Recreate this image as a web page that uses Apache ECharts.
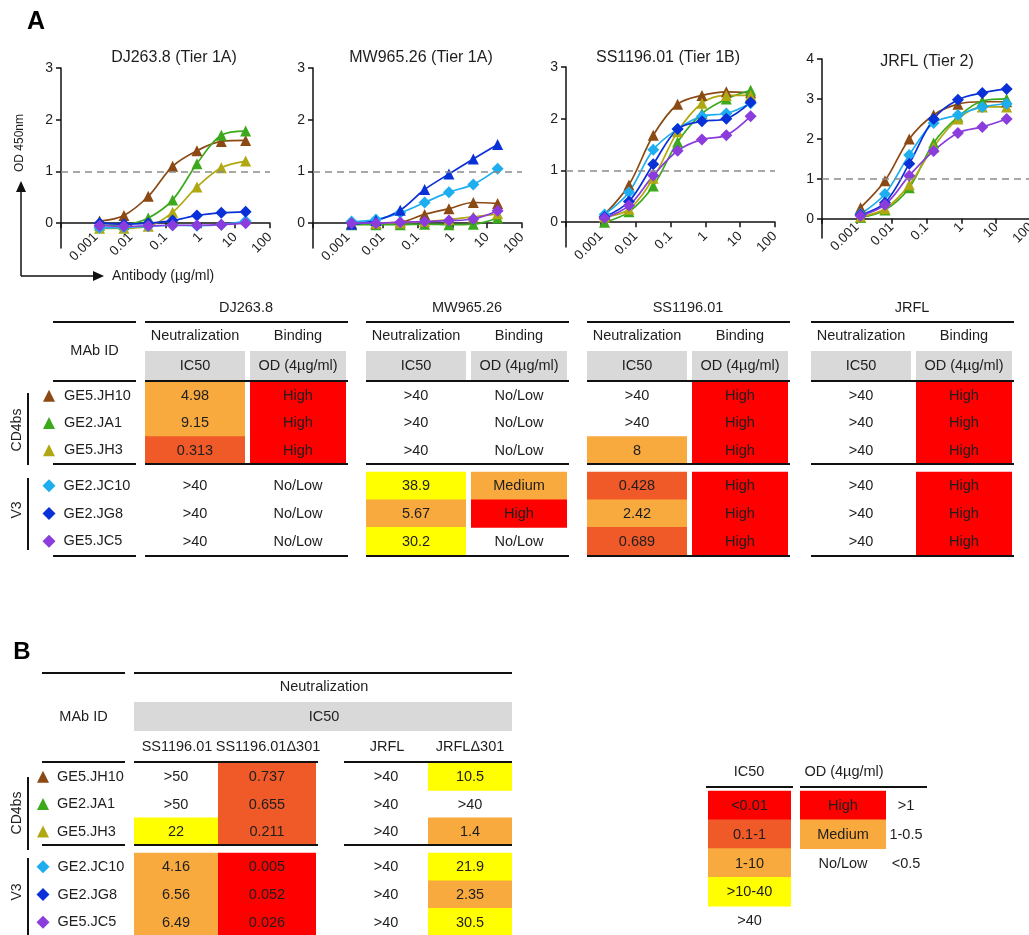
<!DOCTYPE html>
<html>
<head>
<meta charset="utf-8">
<script src="https://cdn.jsdelivr.net/npm/echarts@6/dist/echarts.min.js"></script>
<style>
  html, body { margin: 0; padding: 0; background: #fff; }
  #chart { width: 1029px; height: 935px; }
</style>
</head>
<body>
<div id="chart"></div>
<script>
// antibody concentrations (ug/ml), 5-fold dilutions from 20
const conc = [0.00128, 0.0064, 0.032, 0.16, 0.8, 4, 20];
const xTickLabels = ['0.001', '0.01', '0.1', '1', '10', '100'];
const plotTitles = ['DJ263.8 (Tier 1A)', 'MW965.26 (Tier 1A)', 'SS1196.01 (Tier 1B)', 'JRFL (Tier 2)'];
const viruses = ['DJ263.8', 'MW965.26', 'SS1196.01', 'JRFL'];
const mabs = ['GE5.JH10', 'GE2.JA1', 'GE5.JH3', 'GE2.JC10', 'GE2.JG8', 'GE5.JC5'];
const epitopes = ['CD4bs', 'V3'];

// OD 450nm, one row per mAb (same order as mabs)
const odDJ263 = [
  [0.04, 0.15, 0.52, 1.10, 1.40, 1.58, 1.60],
  [-0.04, -0.03, 0.10, 0.45, 1.15, 1.70, 1.78],
  [-0.10, -0.10, -0.06, 0.21, 0.70, 1.07, 1.20],
  [-0.09, -0.08, -0.06, -0.04, -0.05, -0.03, 0.04],
  [0.00, -0.02, 0.00, 0.05, 0.15, 0.20, 0.22],
  [-0.05, -0.06, -0.05, -0.04, -0.04, -0.03, 0.00]
];
const odMW965 = [
  [0.00, 0.00, 0.02, 0.17, 0.28, 0.40, 0.38],
  [-0.03, -0.03, -0.03, -0.02, -0.03, -0.02, 0.10],
  [0.00, 0.00, 0.01, 0.03, 0.07, 0.12, 0.18],
  [0.03, 0.07, 0.20, 0.40, 0.60, 0.75, 1.05],
  [-0.02, 0.05, 0.25, 0.65, 0.95, 1.24, 1.52],
  [0.00, 0.00, 0.02, 0.03, 0.05, 0.08, 0.24]
];
const odSS1196 = [
  [0.15, 0.72, 1.68, 2.28, 2.45, 2.52, 2.50],
  [0.00, 0.20, 0.70, 1.55, 2.10, 2.38, 2.55],
  [0.10, 0.25, 0.85, 1.75, 2.30, 2.45, 2.45],
  [0.15, 0.58, 1.40, 1.80, 2.05, 2.10, 2.30],
  [0.10, 0.40, 1.12, 1.80, 1.95, 2.00, 2.32],
  [0.08, 0.32, 0.90, 1.38, 1.60, 1.68, 2.05]
];
const odJRFL = [
  [0.28, 0.95, 2.00, 2.60, 2.87, 2.93, 2.93],
  [0.03, 0.22, 0.78, 1.90, 2.55, 2.95, 3.00],
  [0.05, 0.25, 0.85, 1.80, 2.50, 2.80, 2.80],
  [0.12, 0.62, 1.60, 2.40, 2.60, 2.80, 2.88],
  [0.10, 0.40, 1.38, 2.50, 2.98, 3.15, 3.25],
  [0.08, 0.35, 1.08, 1.70, 2.15, 2.30, 2.50]
];
const yTicks3 = [0, 1, 2, 3];
const yTicks4 = [0, 1, 2, 3, 4];

// table A: IC50 (ug/ml) and binding OD at 4ug/ml
const djIC50 = ['4.98', '9.15', '0.313', '>40', '>40', '>40'];
const djOD = ['High', 'High', 'High', 'No/Low', 'No/Low', 'No/Low'];
const mwIC50 = ['>40', '>40', '>40', '38.9', '5.67', '30.2'];
const mwOD = ['No/Low', 'No/Low', 'No/Low', 'Medium', 'High', 'No/Low'];
const ssIC50 = ['>40', '>40', '8', '0.428', '2.42', '0.689'];
const ssOD = ['High', 'High', 'High', 'High', 'High', 'High'];
const jrIC50 = ['>40', '>40', '>40', '>40', '>40', '>40'];
const jrOD = ['High', 'High', 'High', 'High', 'High', 'High'];

// table B: IC50 against wild type and delta301 viruses
const bColumns = ['SS1196.01', 'SS1196.01\u0394301', 'JRFL', 'JRFL\u0394301'];
const bSS = ['>50', '>50', '22', '4.16', '6.56', '6.49'];
const bSSd301 = ['0.737', '0.655', '0.211', '0.005', '0.052', '0.026'];
const bJR = ['>40', '>40', '>40', '>40', '>40', '>40'];
const bJRd301 = ['10.5', '>40', '1.4', '21.9', '2.35', '30.5'];

// colour key
const ic50Bins = ['<0.01', '0.1-1', '1-10', '>10-40', '>40'];
const odBins = ['High', 'Medium', 'No/Low'];
const odRanges = ['>1', '1-0.5', '<0.5'];

// ---- styling ----
const FONT = '"Liberation Sans", Arial, Helvetica, sans-serif';
const TXT = '#1e1e1e';
const mabColors = ['#8b4a14', '#3ca81c', '#b0a812', '#1eaef0', '#0a30d8', '#8a3cdc'];
const mabSymbols = ['triangle', 'triangle', 'triangle', 'diamond', 'diamond', 'diamond'];
const RED = '#ff0000', DORANGE = '#f05a28', ORANGE = '#f9aa3e', YELLOW = '#ffff00', GREY = '#d9d9d9';
const binColors = [RED, DORANGE, ORANGE, YELLOW, null];

function ic50Color(t) {
  if (t.charAt(0) === '>') return null;
  const v = parseFloat(t);
  if (v < 0.1) return RED;
  if (v < 1) return DORANGE;
  if (v <= 10) return ORANGE;
  return YELLOW;
}
function odColor(t) {
  return t === 'High' ? RED : t === 'Medium' ? ORANGE : null;
}

const grids = [], xAxes = [], yAxes = [], series = [], graphics = [];

function addGrid(g) {
  g.outerBoundsMode = 'none';
  g.containLabel = false;
  grids.push(g);
  return grids.length - 1;
}

// ---- binding curves ----
const plotData = [odDJ263, odMW965, odSS1196, odJRFL];
const plotLeft = [61, 313, 566, 822];
const plotTop = [68, 68, 67, 59];
const plotH = [180, 180, 180, 179];
const plotMax = [3, 3, 3, 4];
const titleX = [174, 421, 668, 927];
const titleY = [58, 58, 58, 62];

plotData.forEach((rows, p) => {
  const gi = addGrid({ left: plotLeft[p], top: plotTop[p], width: 209, height: plotH[p] });
  xAxes.push({
    type: 'log', gridIndex: gi, min: 0.0001, max: 100, logBase: 10,
    axisLine: { onZero: true, lineStyle: { color: '#111', width: 1.5 } },
    axisTick: { length: 5, lineStyle: { color: '#111', width: 1.5 } },
    axisLabel: {
      rotate: 45, margin: -13, fontSize: 13.5, fontFamily: FONT, color: TXT,
      formatter: v => {
        const k = Math.round(Math.log10(v)) + 3;
        return k >= 0 ? xTickLabels[k] : '';
      }
    },
    splitLine: { show: false }
  });
  const ticks = plotMax[p] === 4 ? yTicks4 : yTicks3;
  yAxes.push({
    type: 'value', gridIndex: gi, min: -0.48, max: plotMax[p],
    axisLine: { show: true, lineStyle: { color: '#111', width: 1.5 } },
    axisTick: { show: true, length: 5, customValues: ticks, lineStyle: { color: '#111', width: 1.5 } },
    axisLabel: { customValues: ticks, margin: 8, fontSize: 14, fontFamily: FONT, color: TXT },
    splitLine: { show: false }
  });
  rows.forEach((vals, m) => {
    const sym = (p === 1 && m === 4) ? 'triangle' : mabSymbols[m];
    const s = {
      type: 'line', name: mabs[m], xAxisIndex: gi, yAxisIndex: gi,
      data: conc.map((c, k) => [c, vals[k]]),
      smooth: 0.35, symbol: sym, symbolSize: sym === 'triangle' ? 11 : 12,
      showAllSymbol: true,
      lineStyle: { color: mabColors[m], width: 1.7 },
      itemStyle: { color: mabColors[m], opacity: 1 },
      z: 3
    };
    if (m === 0) {
      s.markLine = {
        silent: true, symbol: 'none', label: { show: false },
        lineStyle: { type: [7, 5], color: '#8c8c8c', width: 1.5 },
        data: [{ yAxis: 1 }]
      };
    }
    series.push(s);
  });
  graphics.push(txt(titleX[p], titleY[p], plotTitles[p], 16));
});

// ---- helpers for tables ----
function txt(x, y, s, size, extra) {
  return Object.assign({
    type: 'text', x: x, y: y, z: 50,
    style: { text: s, align: 'center', verticalAlign: 'middle', font: (size || 14.5) + 'px ' + FONT, fill: TXT }
  }, extra || {});
}
function hline(x1, x2, y, w) {
  return { type: 'line', z: 60, shape: { x1: x1, y1: y, x2: x2, y2: y }, style: { stroke: '#111', lineWidth: w || 2 } };
}
function vline(x, y1, y2) {
  return { type: 'line', z: 60, shape: { x1: x, y1: y1, x2: x, y2: y2 }, style: { stroke: '#111', lineWidth: 2 } };
}
function box(x, y, w, h, fill) {
  return { type: 'rect', z: 10, shape: { x: x, y: y, width: w, height: h }, style: { fill: fill } };
}

// one table column drawn as category cells
function addColumn(left, width, top, rowH, cells, colorOf) {
  const gi = addGrid({ left: left, top: top, width: width, height: rowH * cells.length });
  xAxes.push({ type: 'category', gridIndex: gi, data: ['c'], show: false });
  yAxes.push({ type: 'category', gridIndex: gi, data: cells.map((_, i) => String(i)), inverse: true, show: false });
  series.push({
    type: 'custom', xAxisIndex: gi, yAxisIndex: gi, z: 2,
    data: cells.map((_, i) => [0, i]),
    renderItem: (params, api) => {
      const c = api.coord([api.value(0), api.value(1)]);
      const s = api.size([1, 1]);
      const t = cells[params.dataIndex];
      const fill = colorOf(t, params.dataIndex);
      return {
        type: 'group',
        children: [
          { type: 'rect', shape: { x: c[0] - s[0] / 2, y: c[1] - s[1] / 2 - 0.3, width: s[0], height: s[1] + 0.6 },
            style: { fill: fill || 'rgba(0,0,0,0)' } },
          { type: 'text', style: { text: t, x: c[0], y: c[1] + 0.5, align: 'center', verticalAlign: 'middle',
              font: '14.5px ' + FONT, fill: TXT } }
        ]
      };
    }
  });
}

// mAb name column with curve markers
function addMabColumn(symX, top, rowH, idx, dist) {
  const gi = addGrid({ left: symX - 6, top: top, width: 12, height: rowH * idx.length });
  xAxes.push({ type: 'category', gridIndex: gi, data: ['c'], show: false });
  yAxes.push({ type: 'category', gridIndex: gi, data: idx.map(String), inverse: true, show: false });
  series.push({
    type: 'scatter', xAxisIndex: gi, yAxisIndex: gi, z: 5,
    data: idx.map((m, i) => ({
      value: [0, i], symbol: mabSymbols[m],
      symbolSize: mabSymbols[m] === 'triangle' ? 12 : 13,
      itemStyle: { color: mabColors[m], opacity: 1 }
    })),
    itemStyle: { opacity: 1 },
    label: {
      show: true, position: 'right', distance: dist,
      formatter: p => mabs[idx[p.dataIndex]],
      fontSize: 14.5, fontFamily: FONT, color: TXT, opacity: 1
    }
  });
}

// ---- table A ----
const aIC50 = [djIC50, mwIC50, ssIC50, jrIC50];
const aOD = [djOD, mwOD, ssOD, jrOD];
const groupLeft = [145, 366, 587, 811];
const A_CD4 = { top: 382, rowH: 27.3 }, A_V3 = { top: 472, rowH: 27.7 };

graphics.push({ type: 'text', x: 36, y: 22, z: 50,
  style: { text: 'A', align: 'center', verticalAlign: 'middle', font: 'bold 25px ' + FONT, fill: '#000' } });
graphics.push(txt(94.5, 351, 'MAb ID'));
[322, 381, 464, 556].forEach(y => graphics.push(hline(53, 136, y)));

groupLeft.forEach((gl, g) => {
  const icX = gl, odX = gl + 105;
  graphics.push(txt(gl + 101, 308, viruses[g]));
  graphics.push(txt(icX + 50, 336, 'Neutralization'));
  graphics.push(txt(odX + 48, 336, 'Binding'));
  graphics.push(box(icX, 351, 100, 29, GREY));
  graphics.push(box(odX, 351, 96, 29, GREY));
  graphics.push(txt(icX + 50, 366, 'IC50'));
  graphics.push(txt(odX + 48, 366, 'OD (4\u00b5g/ml)'));
  [322, 381, 464, 556].forEach(y => graphics.push(hline(gl, gl + 203, y)));
  addColumn(icX, 100, A_CD4.top, A_CD4.rowH, aIC50[g].slice(0, 3), ic50Color);
  addColumn(icX, 100, A_V3.top, A_V3.rowH, aIC50[g].slice(3), ic50Color);
  addColumn(odX, 96, A_CD4.top, A_CD4.rowH, aOD[g].slice(0, 3), odColor);
  addColumn(odX, 96, A_V3.top, A_V3.rowH, aOD[g].slice(3), odColor);
});
addMabColumn(49, A_CD4.top, A_CD4.rowH, [0, 1, 2], 9);
addMabColumn(49, A_V3.top, A_V3.rowH, [3, 4, 5], 8);
graphics.push(vline(28, 393, 465), vline(28, 478, 550));
graphics.push(txt(17, 430, epitopes[0], 14, { rotation: Math.PI / 2 }));
graphics.push(txt(17, 510, epitopes[1], 14, { rotation: Math.PI / 2 }));

// axis arrows of panel A
graphics.push({ type: 'line', z: 60, shape: { x1: 21, y1: 276, x2: 21, y2: 190 }, style: { stroke: '#111', lineWidth: 1.5 } });
graphics.push({ type: 'line', z: 60, shape: { x1: 21, y1: 276, x2: 95, y2: 276 }, style: { stroke: '#111', lineWidth: 1.5 } });
graphics.push({ type: 'polygon', z: 60, shape: { points: [[21, 181], [16, 192], [26, 192]] }, style: { fill: '#111' } });
graphics.push({ type: 'polygon', z: 60, shape: { points: [[104, 276], [93, 271], [93, 281]] }, style: { fill: '#111' } });
graphics.push(txt(20, 143, 'OD 450nm', 12, { rotation: Math.PI / 2 }));
graphics.push({ type: 'text', x: 112, y: 276, z: 50,
  style: { text: 'Antibody (\u00b5g/ml)', align: 'left', verticalAlign: 'middle', font: '14px ' + FONT, fill: TXT } });

// ---- table B ----
const B_CD4 = { top: 763, rowH: 27.4 }, B_V3 = { top: 853, rowH: 27.7 };
const bCols = [bSS, bSSd301, bJR, bJRd301];
const bColLeft = [134, 218, 344, 428];
const bColW = [84, 98, 84, 84];

graphics.push({ type: 'text', x: 22, y: 652, z: 50,
  style: { text: 'B', align: 'center', verticalAlign: 'middle', font: 'bold 24px ' + FONT, fill: '#000' } });
graphics.push(hline(42, 125, 673), hline(134, 512, 673));
graphics.push(txt(324, 687, 'Neutralization'));
graphics.push(box(134, 702, 378, 29, GREY));
graphics.push(txt(324, 717, 'IC50'));
graphics.push(txt(83.5, 717, 'MAb ID'));
bColumns.forEach((name, c) => {
  graphics.push(txt(bColLeft[c] + [43, 50, 43, 42][c], 747, name));
  addColumn(bColLeft[c], bColW[c], B_CD4.top, B_CD4.rowH, bCols[c].slice(0, 3), ic50Color);
  addColumn(bColLeft[c], bColW[c], B_V3.top, B_V3.rowH, bCols[c].slice(3), ic50Color);
});
[762, 845].forEach(y => {
  graphics.push(hline(42, 125, y), hline(134, 318, y), hline(344, 512, y));
});
addMabColumn(43, B_CD4.top, B_CD4.rowH, [0, 1, 2], 8);
addMabColumn(43, B_V3.top, B_V3.rowH, [3, 4, 5], 8);
graphics.push(vline(28, 777, 850), vline(28, 858, 935));
graphics.push(txt(17, 813, epitopes[0], 14, { rotation: Math.PI / 2 }));
graphics.push(txt(17, 892, epitopes[1], 14, { rotation: Math.PI / 2 }));

// ---- colour key ----
graphics.push(txt(749, 772, 'IC50'));
graphics.push(txt(844, 772, 'OD (4\u00b5g/ml)'));
graphics.push(hline(706, 793, 787), hline(800, 927, 787));
addColumn(708, 83, 791, 28.8, ic50Bins, (t, i) => binColors[i]);
addColumn(800, 86, 791, 28.8, odBins, odColor);
addColumn(886, 40, 791, 28.8, odRanges, () => null);

const chart = echarts.init(document.getElementById('chart'), null, { renderer: 'canvas' });
chart.setOption({
  animation: false,
  backgroundColor: '#fff',
  textStyle: { fontFamily: FONT },
  grid: grids,
  xAxis: xAxes,
  yAxis: yAxes,
  series: series,
  graphic: { elements: graphics }
});
</script>
</body>
</html>
